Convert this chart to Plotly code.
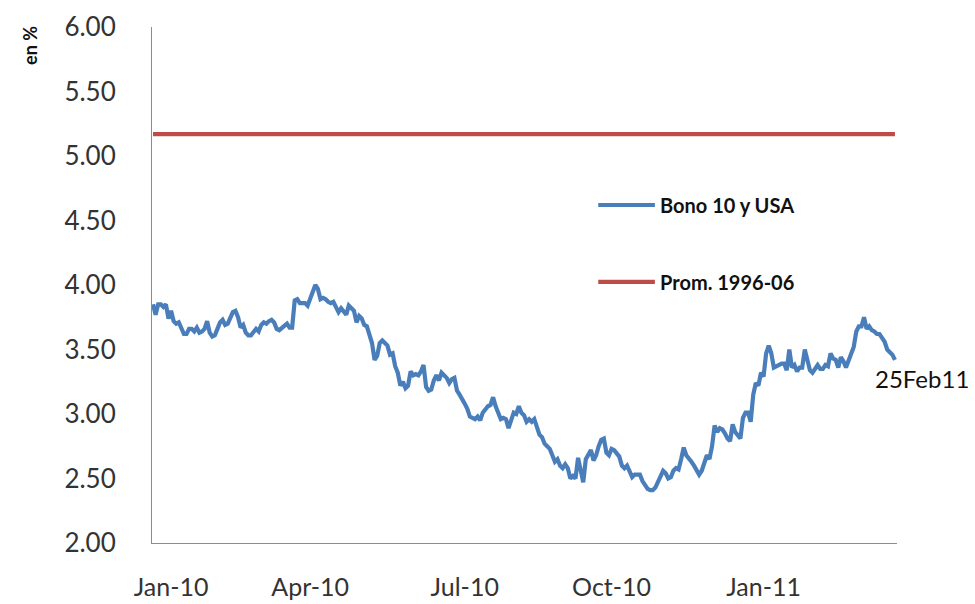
import plotly.graph_objects as go

# US 10-year Treasury yield, daily closes (%), Jan 2010 - 25 Feb 2011
jan10 = [3.85, 3.77, 3.85, 3.85, 3.83, 3.85, 3.74, 3.80, 3.72, 3.70,
         3.71, 3.66, 3.62, 3.62, 3.66, 3.66, 3.64, 3.67, 3.63]
feb10 = [3.64, 3.66, 3.72, 3.63, 3.60, 3.61, 3.66, 3.71, 3.73, 3.69,
         3.70, 3.74, 3.79, 3.80, 3.75, 3.67, 3.69, 3.63, 3.61]
mar10 = [3.61, 3.64, 3.66, 3.64, 3.69, 3.71, 3.70, 3.72, 3.73, 3.71,
         3.66, 3.65, 3.67, 3.69, 3.70, 3.67, 3.67, 3.88, 3.89, 3.86,
         3.86, 3.86, 3.84]
apr10 = [3.89, 3.96, 4.00, 3.97, 3.89, 3.90, 3.89, 3.87, 3.86, 3.87,
         3.83, 3.79, 3.82, 3.80, 3.77, 3.84, 3.82, 3.80, 3.71, 3.76,
         3.74, 3.69]
may10 = [3.68, 3.60, 3.55, 3.42, 3.45, 3.55, 3.57, 3.55, 3.53, 3.46,
         3.47, 3.37, 3.32, 3.22, 3.25, 3.20, 3.22, 3.33, 3.30, 3.31]
jun10 = [3.30, 3.33, 3.38, 3.21, 3.18, 3.19, 3.26, 3.30, 3.26, 3.32,
         3.30, 3.28, 3.24, 3.27, 3.28, 3.18, 3.15, 3.12, 3.08, 3.04,
         2.98, 2.97]
jul10 = [2.96, 2.98, 2.95, 3.01, 3.04, 3.06, 3.07, 3.13, 3.06, 3.00,
         2.96, 2.97, 2.96, 2.89, 2.95, 3.01, 3.00, 3.06, 3.01, 2.99,
         2.94]
aug10 = [2.96, 2.94, 2.96, 2.90, 2.84, 2.82, 2.77, 2.75, 2.73, 2.68,
         2.63, 2.65, 2.60, 2.58, 2.61, 2.58, 2.50, 2.52, 2.50, 2.66,
         2.55, 2.47]
sep10 = [2.65, 2.68, 2.72, 2.64, 2.68, 2.75, 2.80, 2.81, 2.70, 2.68,
         2.73, 2.72, 2.70, 2.67, 2.60, 2.58, 2.60, 2.56, 2.51, 2.53,
         2.53]
oct10 = [2.53, 2.48, 2.45, 2.42, 2.41, 2.41, 2.43, 2.47, 2.52, 2.56,
         2.54, 2.50, 2.51, 2.56, 2.58, 2.57, 2.65, 2.74, 2.68, 2.66]
nov10 = [2.63, 2.60, 2.57, 2.53, 2.56, 2.63, 2.68, 2.65, 2.75, 2.91,
         2.86, 2.89, 2.88, 2.85, 2.81, 2.79, 2.92, 2.86, 2.84, 2.81]
dec10 = [2.97, 3.01, 3.01, 2.94, 3.15, 3.24, 3.22, 3.32, 3.29, 3.47,
         3.53, 3.47, 3.36, 3.37, 3.38, 3.39, 3.39, 3.34, 3.50, 3.36,
         3.38, 3.33]
jan11 = [3.36, 3.36, 3.50, 3.42, 3.34, 3.32, 3.35, 3.38, 3.35, 3.35,
         3.38, 3.37, 3.47, 3.43, 3.42, 3.36, 3.44, 3.41, 3.36, 3.42]
feb11 = [3.46, 3.52, 3.64, 3.68, 3.68, 3.75, 3.66, 3.68, 3.65, 3.64,
         3.62, 3.62, 3.59, 3.56, 3.50, 3.48, 3.46, 3.42]

# 1996-2006 average of the 10-year yield
avg_1996_06 = 5.17

# x-axis labels and the observation number each one sits under
tick_labels = ["Jan-10", "Apr-10", "Jul-10", "Oct-10", "Jan-11"]
tick_obs = [7, 61, 121, 178, 237]

series_name = "Bono 10 y USA"
avg_name = "Prom. 1996-06"
end_label = "25Feb11"

yields = (jan10 + feb10 + mar10 + apr10 + may10 + jun10 + jul10 + aug10
          + sep10 + oct10 + nov10 + dec10 + jan11 + feb11)
obs = list(range(len(yields)))

BLUE = "#4A7EBB"
RED = "#BE4B48"
FONT = "Lato"
LINE_W = 4.2

fig = go.Figure()
fig.add_trace(go.Scatter(
    x=[obs[0], obs[-1]], y=[avg_1996_06, avg_1996_06], mode="lines",
    line=dict(color=RED, width=LINE_W), name=avg_name, showlegend=False,
    hoverinfo="skip"))
fig.add_trace(go.Scatter(
    x=obs, y=yields, mode="lines",
    line=dict(color=BLUE, width=LINE_W), name=series_name, showlegend=False))

# legend drawn as line keys with bold captions
for name, color, ypos in [(series_name, BLUE, 0.655), (avg_name, RED, 0.506)]:
    fig.add_shape(type="line", xref="paper", yref="paper",
                  x0=0.599, x1=0.675, y0=ypos, y1=ypos,
                  line=dict(color=color, width=LINE_W))
    fig.add_annotation(xref="paper", yref="paper", x=0.679, y=ypos,
                       text=f"<b>{name}</b>", showarrow=False,
                       xanchor="left", yanchor="middle",
                       font=dict(family=FONT, size=20, color="#111111"))

# date label beside the last observation
fig.add_annotation(x=obs[-1], y=yields[-1], text=end_label, showarrow=False,
                   xanchor="left", yanchor="top", xshift=-22, yshift=-2,
                   font=dict(family=FONT, size=24, color="#111111"))

# unit label above the y axis
fig.add_annotation(xref="paper", yref="paper", x=-0.164, y=0.965,
                   text="<b>en %</b>", textangle=-90, showarrow=False,
                   xanchor="center", yanchor="middle",
                   font=dict(family=FONT, size=18, color="#111111"))

fig.update_layout(
    width=975, height=604,
    margin=dict(l=152, r=78, t=27, b=61),
    paper_bgcolor="white", plot_bgcolor="white",
    showlegend=False,
    font=dict(family=FONT, color="#333333"),
)
fig.update_xaxes(
    range=[-0.4, 288.8], showgrid=False, zeroline=False, automargin=False,
    showline=True, linecolor="#8C8C8C", linewidth=1,
    tickmode="array", tickvals=tick_obs, ticktext=tick_labels,
    ticks="", ticklabelstandoff=22,
    tickfont=dict(family=FONT, size=25, color="#333333"),
)
fig.update_yaxes(
    range=[2, 6], dtick=0.5, tickformat=".2f", showgrid=False,
    zeroline=False, automargin=False,
    showline=True, linecolor="#8C8C8C", linewidth=1,
    ticks="", ticklabelstandoff=30,
    tickfont=dict(family=FONT, size=26, color="#333333"),
)

fig.write_html("out.html")
